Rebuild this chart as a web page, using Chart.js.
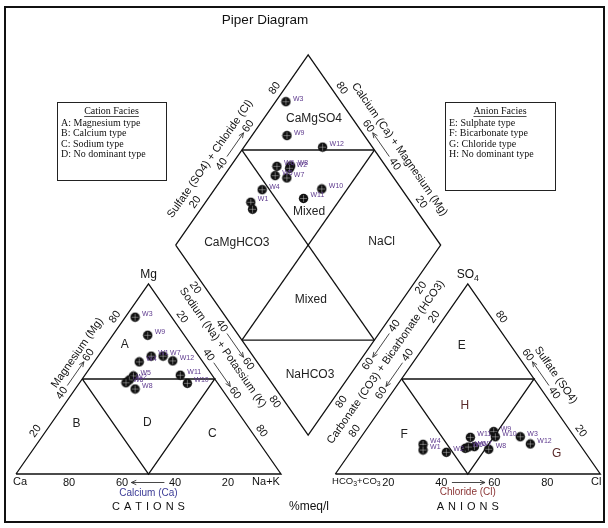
<!DOCTYPE html>
<html>
<head>
<meta charset="utf-8">
<script src="https://cdn.jsdelivr.net/npm/chart.js@4.4.1/dist/chart.umd.min.js"></script>
<style>
  html, body { margin: 0; padding: 0; background: #fff; }
  canvas { display: block; }
</style>
</head>
<body>
<canvas id="piper" width="608" height="528"></canvas>
<script>
// Piper diagram: cation triangle, anion triangle and the projection diamond.

const GAP = 20.5; // space between the two triangles, in % units

// cation triangle: Mg % and Na+K % (Ca is the remainder)
const cationLabels = ['W3', 'W9', 'W4', 'W1', 'W7', 'W12', 'W5', 'W2', 'W6', 'W8', 'W11', 'W10'];
const cationMg = [82.5, 73, 59, 62, 62, 59.5, 51.6, 49.5, 48, 44.7, 52, 47.7];
const cationNaK = [3.7, 13.2, 17, 20, 24.5, 29.4, 18.5, 18, 17.5, 22.6, 36, 40.8];

// anion triangle: SO4 % and Cl % (HCO3+CO3 is the remainder)
const anionLabels = ['W4', 'W1', 'W2', 'W11', 'W5', 'W7', 'W8', 'W9', 'W10', 'W3', 'W12', 'W6'];
const anionSO4 = [15.6, 12.6, 11.4, 19.3, 13.5, 14.4, 13, 22.3, 19.6, 19.6, 15.8, 14.2];
const anionCl = [25.3, 26.8, 36.2, 41.3, 42.3, 45.3, 51.4, 48.6, 50.6, 60, 65.7, 43.1];

// diamond: Na+K % and SO4+Cl %
const diamondLabels = ['W3', 'W9', 'W12', 'W6', 'W8', 'W2', 'W5', 'W7', 'W4', 'W1', '', 'W10', 'W11'];
const diamondNaK = [3.9, 13.2, 29.7, 17.5, 22.6, 22.8, 19.3, 24.3, 18.1, 17.1, 19.6, 40.4, 36.0];
const diamondSO4Cl = [79.3, 70.8, 81.2, 58.9, 64.2, 63.2, 55.8, 59.6, 47.2, 39.6, 38.4, 69.9, 60.5];

const tickValues = [20, 40, 60, 80];

// ternary -> chart units
const cationXY = (mg, na) => ({ x: na + mg / 2, y: mg });
const anionXY = (so4, cl) => ({ x: 100 + GAP + cl + so4 / 2, y: so4 });
const diamondXY = (na, s) => ({ x: 50 + GAP / 2 + (na + s) / 2, y: 100 + GAP + s - na });

const FONT = '"Liberation Sans", Arial, sans-serif';
const SERIF = '"Liberation Serif", "Times New Roman", serif';
const INK = '#111';
const LABEL_INK = '#5e3a8e';

const cCentre = cationXY(33.3, 33.3);
const aCentre = anionXY(33.3, 33.3);
const dCentre = diamondXY(50, 50);

// each edge: value v (0..100) -> point, optional axis title
const edges = [
    { at: (v) => cationXY(v, 0), centre: cCentre, title: 'Magnesium (Mg)', tv: 58, toff: 19 },
    { at: (v) => cationXY(100 - v, v), centre: cCentre },
    { at: (v) => cationXY(0, 100 - v), centre: cCentre, title: 'Calcium (Ca)', tv: 50, toff: 19, color: '#3a3a96', tsize: 10 },
    { at: (v) => diamondXY(0, v), centre: dCentre, title: 'Sulfate (SO4) + Chloride (Cl)', tv: 39, toff: 21 },
    { at: (v) => diamondXY(v, 0), centre: dCentre, title: 'Sodium (Na) + Potassium (K)', tv: 48, toff: 20 },
    { at: (v) => diamondXY(100 - v, 100), centre: dCentre, title: 'Calcium (Ca) + Magnesium (Mg)', tv: 44, toff: 21 },
    { at: (v) => diamondXY(100, 100 - v), centre: dCentre, title: 'Carbonate (CO3) + Bicarbonate (HCO3)', tv: 55, toff: 22 },
    { at: (v) => anionXY(100 - v, 0), centre: aCentre },
    { at: (v) => anionXY(v, 100 - v), centre: aCentre, title: 'Sulfate (SO4)', tv: 46, toff: 20 },
    { at: (v) => anionXY(0, v), centre: aCentre, title: 'Chloride (Cl)', tv: 50, toff: 18.5, color: '#8b3535', tsize: 10 },
];

const regionNames = [
    { text: 'A', at: cationXY(68, 7) },
    { text: 'B', at: cationXY(26.7, 9.5) },
    { text: 'D', at: cationXY(27.2, 36) },
    { text: 'C', at: cationXY(21, 63.6) },
    { text: 'E', at: anionXY(67.4, 14) },
    { text: 'H', at: anionXY(36, 30.9), color: '#5a2a2a' },
    { text: 'F', at: anionXY(20.9, 15.5) },
    { text: 'G', at: anionXY(10.5, 78.3), color: '#5a2a2a' },
    { text: 'CaMgSO4', at: diamondXY(18.9, 85.5) },
    { text: 'Mixed', at: diamondXY(41.6, 59.1) },
    { text: 'CaMgHCO3', at: diamondXY(22.5, 23.7) },
    { text: 'NaCl', at: diamondXY(76.9, 78.6) },
    { text: 'Mixed', at: diamondXY(65.3, 36.7) },
    { text: 'NaHCO3', at: diamondXY(84.9, 16.5) },
];

function makeMarker() {
    const c = document.createElement('canvas');
    c.width = 11;
    c.height = 11;
    const g = c.getContext('2d');
    g.fillStyle = '#111';
    g.beginPath();
    g.arc(5.5, 5.5, 4.7, 0, Math.PI * 2);
    g.fill();
    g.strokeStyle = 'rgba(255,255,255,0.35)';
    g.lineWidth = 1;
    g.beginPath();
    g.moveTo(5.5, 2); g.lineTo(5.5, 9);
    g.moveTo(2, 5.5); g.lineTo(9, 5.5);
    g.stroke();
    return c;
}
const marker = makeMarker();

const outline = (pts) => ({
    data: pts,
    showLine: true,
    borderColor: INK,
    borderWidth: 1.3,
    pointRadius: 0,
    fill: false,
    clip: false,
    order: 2,
});

const samples = (pts, labels) => ({
    data: pts,
    sampleLabels: labels,
    pointStyle: marker,
    pointRadius: 5,
    showLine: false,
    clip: false,
    order: 1,
});

const datasets = [
    outline([cationXY(0, 0), cationXY(0, 100), cationXY(100, 0), cationXY(0, 0)]),
    outline([cationXY(50, 0), cationXY(0, 50), cationXY(50, 50), cationXY(50, 0)]),
    outline([anionXY(0, 0), anionXY(0, 100), anionXY(100, 0), anionXY(0, 0)]),
    outline([anionXY(50, 0), anionXY(0, 50), anionXY(50, 50), anionXY(50, 0)]),
    outline([diamondXY(0, 0), diamondXY(100, 0), diamondXY(100, 100), diamondXY(0, 100), diamondXY(0, 0)]),
    outline([diamondXY(0, 50), diamondXY(50, 100)]),
    outline([diamondXY(50, 0), diamondXY(100, 50)]),
    outline([diamondXY(0, 50), diamondXY(100, 50)]),
    outline([diamondXY(50, 0), diamondXY(50, 100)]),
    samples(cationMg.map((mg, i) => cationXY(mg, cationNaK[i])), cationLabels),
    samples(anionSO4.map((so4, i) => anionXY(so4, anionCl[i])), anionLabels),
    samples(diamondNaK.map((na, i) => diamondXY(na, diamondSO4Cl[i])), diamondLabels),
];

function rotText(ctx, text, x, y, ang) {
    ctx.save();
    ctx.translate(x, y);
    ctx.rotate(ang);
    ctx.fillText(text, 0, 0);
    ctx.restore();
}

// text with subscripts, parts = [[str, isSub], ...], centred on x
function richText(ctx, parts, x, y, size) {
    const w = parts.reduce((s, [t, sub]) => {
        ctx.font = `${sub ? size * 0.72 : size}px ${FONT}`;
        return s + ctx.measureText(t).width;
    }, 0);
    let cx = x - w / 2;
    ctx.textAlign = 'left';
    parts.forEach(([t, sub]) => {
        ctx.font = `${sub ? size * 0.72 : size}px ${FONT}`;
        ctx.fillText(t, cx, sub ? y + size * 0.3 : y);
        cx += ctx.measureText(t).width;
    });
}

function spacedText(ctx, text, x, y, spacing) {
    const widths = [...text].map((ch) => ctx.measureText(ch).width);
    const total = widths.reduce((a, b) => a + b, 0) + spacing * (text.length - 1);
    let cx = x - total / 2;
    ctx.textAlign = 'left';
    [...text].forEach((ch, i) => {
        ctx.fillText(ch, cx, y);
        cx += widths[i] + spacing;
    });
}

function legendBox(ctx, x, y, w, h, title, lines) {
    ctx.strokeStyle = '#222';
    ctx.lineWidth = 1;
    ctx.strokeRect(x + 0.5, y + 0.5, w, h);
    ctx.fillStyle = INK;
    ctx.font = `10px ${SERIF}`;
    ctx.textAlign = 'center';
    ctx.textBaseline = 'middle';
    const cx = x + w / 2;
    ctx.fillText(title, cx, y + 9);
    const tw = ctx.measureText(title).width;
    ctx.beginPath();
    ctx.moveTo(cx - tw / 2, y + 14.5);
    ctx.lineTo(cx + tw / 2, y + 14.5);
    ctx.lineWidth = 0.8;
    ctx.stroke();
    ctx.textAlign = 'left';
    lines.forEach((t, i) => ctx.fillText(t, x + 4, y + 21.5 + i * 10.2));
}

const piperText = {
    id: 'piperText',
    afterDatasetsDraw(chart) {
        const ctx = chart.ctx;
        const xs = chart.scales.x;
        const ys = chart.scales.y;
        const px = (u) => ({ x: xs.getPixelForValue(u.x), y: ys.getPixelForValue(u.y) });
        ctx.save();

        // frame + title
        ctx.strokeStyle = INK;
        ctx.lineWidth = 2;
        ctx.strokeRect(5, 7, 599, 515);
        ctx.fillStyle = INK;
        ctx.textAlign = 'center';
        ctx.textBaseline = 'middle';
        ctx.font = `13.5px ${FONT}`;
        ctx.fillText('Piper Diagram', 265, 20);

        // edge ticks, arrows, titles
        const TICK_OFF = 8.5;
        edges.forEach((e) => {
            const a = px(e.at(0));
            const b = px(e.at(100));
            const m = px(e.at(50));
            const c = px(e.centre);
            const dx = b.x - a.x;
            const dy = b.y - a.y;
            const len = Math.hypot(dx, dy);
            let nx = -dy / len;
            let ny = dx / len;
            if ((m.x - c.x) * nx + (m.y - c.y) * ny < 0) {
                nx = -nx;
                ny = -ny;
            }
            let ang = Math.atan2(dy, dx);
            if (ang > Math.PI / 2 + 0.01) ang -= Math.PI;
            if (ang < -Math.PI / 2 - 0.01) ang += Math.PI;

            ctx.fillStyle = INK;
            ctx.font = `11px ${FONT}`;
            ctx.textAlign = 'center';
            tickValues.forEach((v) => {
                const p = px(e.at(v));
                rotText(ctx, String(v), p.x + nx * TICK_OFF, p.y + ny * TICK_OFF, ang);
            });

            // arrow between 40 and 60, pointing to increasing values
            const p0 = px(e.at(44));
            const p1 = px(e.at(56.5));
            const sx = p0.x + nx * TICK_OFF, sy = p0.y + ny * TICK_OFF;
            const tx = p1.x + nx * TICK_OFF, ty = p1.y + ny * TICK_OFF;
            const al = Math.hypot(tx - sx, ty - sy);
            const ux = (tx - sx) / al, uy = (ty - sy) / al;
            ctx.strokeStyle = '#333';
            ctx.lineWidth = 0.9;
            ctx.beginPath();
            ctx.moveTo(sx, sy);
            ctx.lineTo(tx, ty);
            ctx.moveTo(tx - ux * 5 - uy * 2.2, ty - uy * 5 + ux * 2.2);
            ctx.lineTo(tx, ty);
            ctx.lineTo(tx - ux * 5 + uy * 2.2, ty - uy * 5 - ux * 2.2);
            ctx.stroke();

            if (e.title) {
                const p = px(e.at(e.tv));
                ctx.fillStyle = e.color || INK;
                ctx.font = `${e.tsize || 11}px ${FONT}`;
                rotText(ctx, e.title, p.x + nx * e.toff, p.y + ny * e.toff, ang);
            }
        });

        // corner names
        ctx.fillStyle = INK;
        ctx.textBaseline = 'middle';
        ctx.font = `12px ${FONT}`;
        ctx.textAlign = 'center';
        const mg = px(cationXY(100, 0));
        ctx.fillText('Mg', mg.x, mg.y - 9);
        richText(ctx, [['SO', false], ['4', true]], px(anionXY(100, 0)).x, mg.y - 9, 12);
        ctx.font = `11px ${FONT}`;
        ctx.textAlign = 'left';
        const ca = px(cationXY(0, 0));
        ctx.fillText('Ca', ca.x - 3, ca.y + 7.5);
        ctx.textAlign = 'center';
        const nak = px(cationXY(0, 100));
        ctx.fillText('Na+K', nak.x - 15, nak.y + 7.5);
        const hco = px(anionXY(0, 0));
        richText(ctx, [['HCO', false], ['3', true], ['+CO', false], ['3', true]], hco.x + 21, hco.y + 7.5, 9.5);
        ctx.font = `11px ${FONT}`;
        ctx.textAlign = 'center';
        const cl = px(anionXY(0, 100));
        ctx.fillText('Cl', cl.x - 4, cl.y + 7.5);

        // bottom captions
        ctx.font = `11px ${FONT}`;
        spacedText(ctx, 'CATIONS', px(cationXY(0, 50)).x, 507, 4);
        spacedText(ctx, 'ANIONS', px(anionXY(0, 50)).x, 507, 4);
        ctx.font = `12px ${FONT}`;
        ctx.textAlign = 'center';
        ctx.fillText('%meq/l', 309, 507);

        // facies names
        ctx.textAlign = 'center';
        regionNames.forEach((r) => {
            const p = px(r.at);
            ctx.fillStyle = r.color || '#222';
            ctx.font = `12px ${FONT}`;
            ctx.fillText(r.text, p.x, p.y);
        });

        // sample labels
        ctx.fillStyle = LABEL_INK;
        ctx.font = `7px ${FONT}`;
        ctx.textAlign = 'left';
        chart.data.datasets.forEach((ds, i) => {
            if (!ds.sampleLabels) return;
            chart.getDatasetMeta(i).data.forEach((pt, j) => {
                const t = ds.sampleLabels[j];
                if (t) ctx.fillText(t, pt.x + 7, pt.y - 3);
            });
        });

        // legends
        legendBox(ctx, 57, 102, 109, 78, 'Cation Facies',
            ['A: Magnesium type', 'B: Calcium type', 'C: Sodium type', 'D: No dominant type']);
        legendBox(ctx, 445, 102, 110, 88, 'Anion Facies',
            ['E: Sulphate type', 'F: Bicarbonate type', 'G: Chloride type', 'H: No dominant type']);

        ctx.restore();
    },
};

new Chart(document.getElementById('piper'), {
    type: 'scatter',
    data: { datasets },
    options: {
        responsive: false,
        animation: false,
        events: [],
        layout: { padding: { left: 16, right: 7.7, top: 55, bottom: 54 } },
        scales: {
            x: { type: 'linear', min: 0, max: 200 + GAP, display: false },
            y: { type: 'linear', min: 0, max: 200 + GAP, display: false },
        },
        plugins: {
            legend: { display: false },
            tooltip: { enabled: false },
        },
    },
    plugins: [piperText],
});
</script>
</body>
</html>
